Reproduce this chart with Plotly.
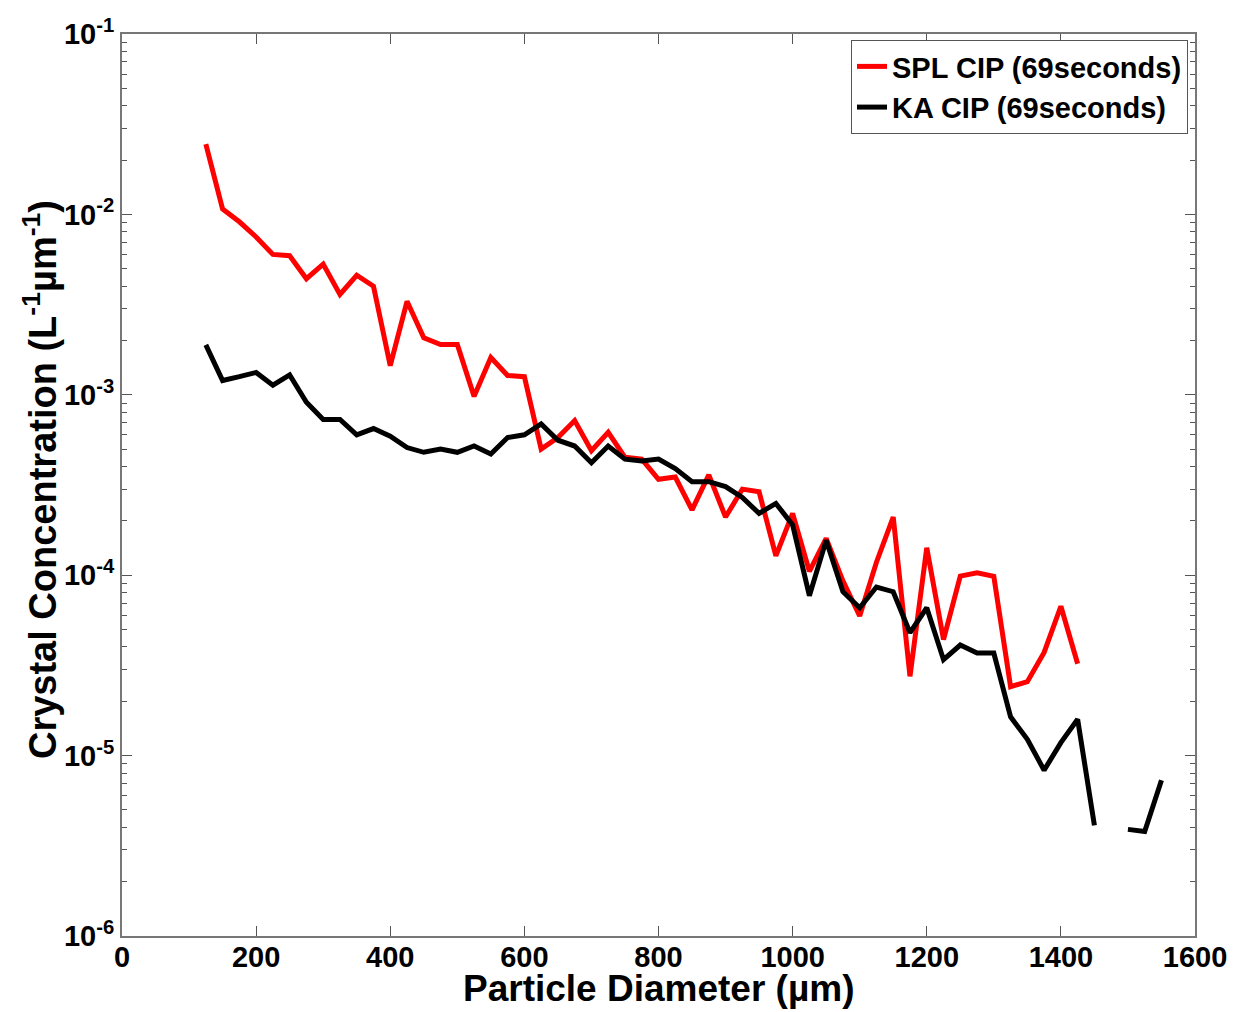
import plotly.graph_objects as go

# particle diameter bins (um)
diam_spl = [125, 150, 175, 200, 225, 250, 275, 300, 325, 350, 375, 400, 425, 450, 475, 500,
            525, 550, 575, 600, 625, 650, 675, 700, 725, 750, 775, 800, 825, 850, 875, 900,
            925, 950, 975, 1000, 1025, 1050, 1075, 1100, 1125, 1150, 1175, 1200, 1225, 1250,
            1275, 1300, 1325, 1350, 1375, 1400, 1425]
conc_spl = [0.0245, 0.0107, 0.0091, 0.0075, 0.0060, 0.0059, 0.0044, 0.0053, 0.0036, 0.0046,
            0.0040, 0.00145, 0.0033, 0.00207, 0.0019, 0.0019, 0.00098, 0.00161, 0.00128,
            0.00126, 0.00050, 0.00058, 0.00072, 0.00049, 0.00062, 0.00045, 0.00044, 0.00034,
            0.00035, 0.00023, 0.00036, 0.00021, 0.00030, 0.00029, 0.000128, 0.00022, 0.000105,
            0.00016, 0.000093, 0.0000594, 0.000118, 0.00021, 0.0000275, 0.000142, 0.000044,
            0.0000988, 0.000103, 0.0000986, 0.0000241, 0.0000257, 0.0000373, 0.0000673,
            0.0000323]

diam_ka = [125, 150, 175, 200, 225, 250, 275, 300, 325, 350, 375, 400, 425, 450, 475, 500,
           525, 550, 575, 600, 625, 650, 675, 700, 725, 750, 775, 800, 825, 850, 875, 900,
           925, 950, 975, 1000, 1025, 1050, 1075, 1100, 1125, 1150, 1175, 1200, 1225, 1250,
           1275, 1300, 1325, 1350, 1375, 1400, 1425, 1450, 1475, 1500, 1525, 1550]
conc_ka = [0.00189, 0.00120, 0.00126, 0.00133, 0.00113, 0.00129, 0.00091, 0.00073, 0.00073,
           0.00060, 0.00065, 0.00059, 0.00051, 0.00048, 0.00050, 0.00048, 0.00052, 0.00047,
           0.00058, 0.00060, 0.00069, 0.00056, 0.00052, 0.00042, 0.00052, 0.00044, 0.00043,
           0.00044, 0.00039, 0.00033, 0.00033, 0.00031, 0.00027, 0.00022, 0.00025, 0.00019,
           0.000077, 0.000156, 0.000081, 0.000066, 0.000086, 0.000081, 0.000048, 0.000066,
           0.000034, 0.000041, 0.000037, 0.000037, 0.0000164, 0.0000123, 0.0000083,
           0.0000118, 0.0000159, 0.0000041, None, 0.0000039, 0.0000038, 0.0000073]

x_ticks = [0, 200, 400, 600, 800, 1000, 1200, 1400, 1600]
y_ticks = [1e-6, 1e-5, 1e-4, 1e-3, 1e-2, 1e-1]
y_ticktext = ["10<sup>-6</sup>", "10<sup>-5</sup>", "10<sup>-4</sup>",
              "10<sup>-3</sup>", "10<sup>-2</sup>", "10<sup>-1</sup>"]

FONT = "Liberation Sans, Arial"

fig = go.Figure()
fig.add_trace(go.Scatter(x=diam_spl, y=conc_spl, mode="lines", name="SPL CIP (69seconds)",
                         line=dict(color="#ff0000", width=5)))
fig.add_trace(go.Scatter(x=diam_ka, y=conc_ka, mode="lines", name="KA CIP (69seconds)",
                         line=dict(color="#000000", width=5), connectgaps=False))

fig.update_xaxes(range=[0, 1600], tickvals=x_ticks, ticks="inside", ticklen=10,
                 tickcolor="#555", linecolor="#777", linewidth=2, mirror="ticks",
                 showline=True, showgrid=False, zeroline=False, automargin=False,
                 ticklabeloverflow="allow", ticklabelstandoff=-6,
                 tickfont=dict(family=FONT, size=29, color="black", weight="bold"))
fig.update_yaxes(type="log", range=[-6, -1], tickvals=y_ticks, ticktext=y_ticktext,
                 ticks="inside", ticklen=10, tickcolor="#555",
                 minor=dict(ticks="inside", ticklen=5, tickcolor="#555", dtick="D1"),
                 linecolor="#777", linewidth=2, mirror="ticks", showline=True,
                 showgrid=False, zeroline=False, automargin=False,
                 tickfont=dict(family=FONT, size=29, color="black", weight="bold"))

# axis titles placed as annotations so they sit where the reference has them
fig.add_annotation(text="Particle Diameter (µm)", xref="paper", yref="paper",
                   x=0.5, y=-0.058, xanchor="center", yanchor="middle", showarrow=False,
                   font=dict(family=FONT, size=37, color="black", weight="bold"))
fig.add_annotation(text="Crystal Concentration (L<sup>-1</sup>µm<sup>-1</sup>)",
                   xref="paper", yref="paper", x=-0.0764, y=0.5055, textangle=-90,
                   xanchor="center", yanchor="middle", showarrow=False,
                   font=dict(family=FONT, size=38, color="black", weight="bold"))

fig.update_layout(
    width=1235, height=1012,
    margin=dict(l=122, r=40, t=34, b=76),
    plot_bgcolor="white", paper_bgcolor="white",
    font=dict(family=FONT, color="black"),
    legend=dict(x=0.9935, y=0.9933, xanchor="right", yanchor="top",
                bgcolor="white", bordercolor="#555", borderwidth=1,
                font=dict(family=FONT, size=29, color="black", weight="bold"),
                tracegroupgap=0),
)

# drop the default 8px body margin so the figure fills the window
fig.write_html("out.html", config={"displayModeBar": False},
               post_script="document.body.style.margin='0';")
